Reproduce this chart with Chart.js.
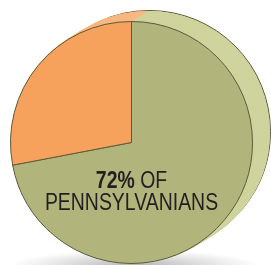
<!DOCTYPE html>
<html>
<head>
<meta charset="utf-8">
<script src="https://cdn.jsdelivr.net/npm/chart.js@4"></script>
<style>
  html, body { margin: 0; padding: 0; background: #fff; overflow: hidden; }
  body { width: 271px; height: 265px; position: relative; }
  .shadow {
    position: absolute; left: 10px; top: 250px; width: 250px; height: 30px;
    background: radial-gradient(ellipse at center, rgba(120,120,120,0.55) 0%, rgba(160,160,160,0.25) 45%, rgba(255,255,255,0) 70%);
  }
  canvas { position: absolute; }
  .label {
    position: absolute; left: 0; width: 263px; text-align: center;
    font-family: "Liberation Sans", Arial, sans-serif;
    color: #231f20; font-size: 24px; line-height: 24px;
    transform: scaleX(0.81); transform-origin: 131.5px 0;
  }
  .label b { font-weight: bold; }
</style>
</head>
<body>
<div class="shadow"></div>
<div id="stack"></div>
<div class="label" style="top:168px"><b>72%</b> OF</div>
<div class="label" style="top:190px">PENNSYLVANIANS</div>
<script>
const categories = ['Pennsylvanians', 'Others'];
const shares = [72, 28];
const frontColors = ['#b1b57b', '#f6a25c'];
const sideColors = ['#cfd39d', '#f9b881'];
const edgeColor = '#5b5a3c';

// front face position and the depth offset of the back face
const front = { left: 10, top: 21 };
const depth = { x: 18, y: -11 };
const steps = 18;

function drawPie(left, top, colors, border) {
    const canvas = document.createElement('canvas');
    canvas.width = 243;
    canvas.height = 243;
    canvas.style.left = left + 'px';
    canvas.style.top = top + 'px';
    document.getElementById('stack').appendChild(canvas);
    return new Chart(canvas.getContext('2d'), {
        type: 'pie',
        data: {
            labels: categories,
            datasets: [{
                data: shares,
                backgroundColor: colors,
                borderColor: border ? edgeColor : colors,
                borderWidth: border ? 1 : 0
            }]
        },
        options: {
            responsive: false,
            animation: false,
            layout: { padding: 0 },
            plugins: {
                legend: { display: false },
                tooltip: { enabled: false }
            }
        }
    });
}

// extruded side: back face with outline, then fill-only layers toward the front
for (let i = steps; i >= 1; i--) {
    const t = i / steps;
    drawPie(front.left + Math.round(depth.x * t), front.top + Math.round(depth.y * t), sideColors, i === steps);
}
drawPie(front.left, front.top, frontColors, true);
</script>
</body>
</html>
